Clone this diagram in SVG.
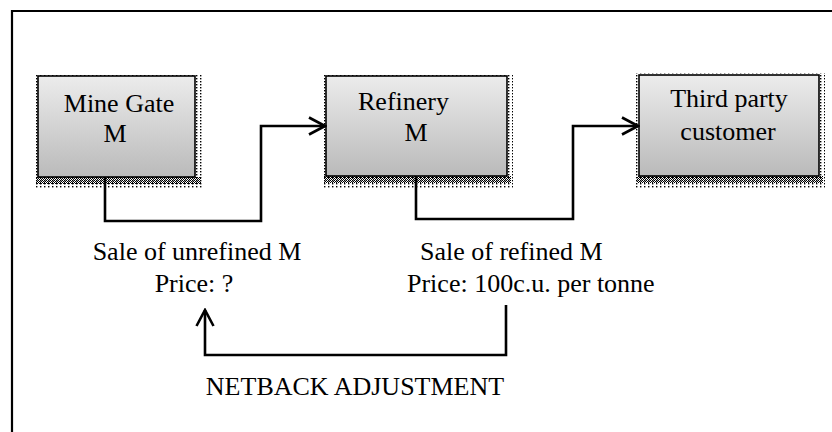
<svg xmlns="http://www.w3.org/2000/svg" width="832" height="432" viewBox="0 0 832 432">
  <style>
    .t { font-family: "Liberation Serif", "Times New Roman", serif; font-size: 26px; fill: #000; }
    .box { fill: url(#boxGrad); stroke: #000; stroke-width: 1.6; }
    .sh { fill: url(#sparse); }
    .shd { fill: url(#dense); }
    .conn { fill: none; stroke: #000; stroke-width: 2.6; stroke-linejoin: miter; }
    .frame { stroke: #000; stroke-width: 2.2; fill: none; }
  </style>
  <defs>
    <linearGradient id="boxGrad" x1="0" y1="0" x2="0" y2="1">
      <stop offset="0" stop-color="#ececec"/>
      <stop offset="1" stop-color="#bababa"/>
    </linearGradient>
    <pattern id="sparse" width="4" height="3" patternUnits="userSpaceOnUse">
      <rect x="0" y="0" width="1.4" height="1.4" fill="#000"/>
    </pattern>
    <pattern id="dense" width="2" height="2" patternUnits="userSpaceOnUse">
      <rect x="0" y="0" width="1" height="1" fill="#000"/>
      <rect x="1" y="1" width="1" height="1" fill="#000"/>
    </pattern>
    <marker id="arrow" viewBox="0 0 20 20" refX="18" refY="10" markerWidth="20" markerHeight="20" markerUnits="userSpaceOnUse" orient="auto">
      <path d="M2 1.5 L18 10 L2 18.5" fill="none" stroke="#000" stroke-width="2.6"/>
    </marker>
  </defs>

  <g id="frame">
    <line class="frame" x1="11" y1="11" x2="832" y2="11"/>
    <line class="frame" x1="12" y1="10" x2="12" y2="432"/>
  </g>

  <g id="mine-gate">
    <rect class="sh" x="34" y="74" width="169" height="115"/>
    <rect class="shd" x="36" y="177" width="165" height="7"/>
    <rect class="box" x="38" y="76" width="157" height="101"/>
    <text class="t" x="119" y="112" text-anchor="middle">Mine Gate</text>
    <text class="t" x="115" y="142" text-anchor="middle">M</text>
  </g>

  <g id="refinery">
    <rect class="sh" x="322" y="74" width="191" height="114"/>
    <rect class="shd" x="324" y="176" width="187" height="7"/>
    <rect class="box" x="326" y="76" width="181" height="100"/>
    <text class="t" x="358" y="110">Refinery</text>
    <text class="t" x="416" y="141" text-anchor="middle">M</text>
  </g>

  <g id="third-party">
    <rect class="sh" x="635" y="73" width="190" height="115"/>
    <rect class="shd" x="637" y="176" width="186" height="7"/>
    <rect class="box" x="639" y="75" width="180" height="101"/>
    <text class="t" x="729" y="107" text-anchor="middle">Third party</text>
    <text class="t" x="728" y="140" text-anchor="middle">customer</text>
  </g>

  <g id="connectors">
    <path class="conn" d="M105 177 V221 H261 V126 H325" marker-end="url(#arrow)"/>
    <path class="conn" d="M416 176 V219 H573 V126 H638" marker-end="url(#arrow)"/>
    <path class="conn" d="M506 305 V355 H205 V310" marker-end="url(#arrow)"/>
  </g>

  <g id="labels">
    <text class="t" x="197" y="260" text-anchor="middle">Sale of unrefined M</text>
    <text class="t" x="194" y="292" text-anchor="middle">Price: ?</text>
    <text class="t" x="420" y="260">Sale of refined M</text>
    <text class="t" x="407" y="292">Price: 100c.u. per tonne</text>
    <text class="t" x="355" y="395" text-anchor="middle">NETBACK ADJUSTMENT</text>
  </g>
</svg>
